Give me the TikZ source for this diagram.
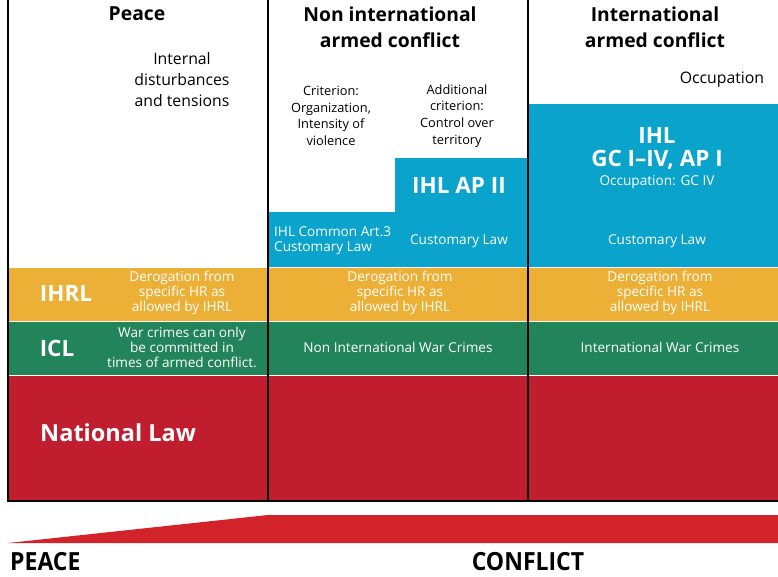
\documentclass[tikz,border=0pt]{standalone}
\usepackage{fontspec}
\setmainfont{Open Sans}
\newfontfamily\condfont[FakeStretch=0.92]{Open Sans}
\definecolor{lawblue}{RGB}{10,163,203}
\definecolor{lawyellow}{RGB}{236,176,54}
\definecolor{lawgreen}{RGB}{34,132,90}
\definecolor{lawred}{RGB}{192,30,46}
\definecolor{wedgered}{RGB}{210,35,42}
\begin{document}
\begin{tikzpicture}[x=1pt,y=-1pt,
    every node/.style={inner sep=0pt},
    head/.style={font=\fontsize{19.3}{26}\selectfont\bfseries, align=center},
    note/.style={font=\fontsize{15.8}{21}\selectfont, align=center},
    crit/.style={font=\fontsize{12.8}{16.7}\selectfont, align=center},
    wnote/.style={font=\fontsize{13.6}{15}\selectfont, align=center, text=white},
    wbig/.style={font=\fontsize{22.5}{23}\selectfont\bfseries, align=center, text=white},
    axis/.style={font=\fontsize{25}{25}\condfont\bfseries}]
\useasboundingbox (0,0) rectangle (778,577);
% colour bands
\fill [lawblue] (268,212) rectangle (395,266.5);
\fill [lawblue] (395,158) rectangle (528,266.5);
\fill [lawblue] (528,104) rectangle (778,266.5);
\fill [lawyellow] (8,268) rectangle (778,320.5);
\fill [lawgreen] (8,322) rectangle (778,374.5);
\fill [lawred] (8,376) rectangle (778,500);
% frame
\draw [black, line width=2.6pt] (8,0) -- (8,501) -- (778,501);
\draw [black, line width=2.6pt] (268,0) -- (268,501);
\draw [black, line width=2.6pt] (528,0) -- (528,501);
% column heads
\node [head] (peace) at (137,14) {Peace};
\node [head] (niac) at (390,27) {Non international\\armed conflict};
\node [head] (iac) at (655,27) {International\\armed conflict};
\node [note] (internal) at (182,80) {Internal\\disturbances\\and tensions};
\node [note] (occup) at (722,80) {Occupation};
\node [crit] (crit1) at (331,116) {Criterion:\\Organization,\\Intensity of\\violence};
\node [crit] (crit2) at (457,116) {Additional\\criterion:\\Control over\\territory};
% IHL
\node [wbig] (apii) at (459,185) {IHL AP II};
\node [wnote, align=left, anchor=west] (art3) at (274,240.5) {IHL Common Art.3\\Customary Law};
\node [wnote] (cust2) at (459,241) {Customary Law};
\node [wbig] (gc) at (657,148.5) {IHL\\GC I--IV, AP I};
\node [wnote] (occgc) at (657,182) {Occupation: GC IV};
\node [wnote] (cust3) at (657,241) {Customary Law};
% IHRL
\node [wbig] (ihrl) at (66,293) {IHRL};
\node [wnote] (derog1) at (182,293) {Derogation from\\specific HR as\\allowed by IHRL};
\node [wnote] (derog2) at (400,293) {Derogation from\\specific HR as\\allowed by IHRL};
\node [wnote] (derog3) at (660,293) {Derogation from\\specific HR as\\allowed by IHRL};
% ICL
\node [wbig] (icl) at (57,348) {ICL};
\node [wnote] (wc1) at (182,347) {War crimes can only\\be committed in\\times of armed conflict.};
\node [wnote] (wc2) at (398,347) {Non International War Crimes};
\node [wnote] (wc3) at (660,347) {International War Crimes};
% national law
\node [wbig, anchor=west, font=\fontsize{23.5}{24}\selectfont\bfseries] (natlaw) at (40,433) {National Law};
% scale
\fill [wedgered] (8,543) -- (268,515) -- (778,515) -- (778,543) -- cycle;
\node [axis, anchor=west] (peacelab) at (10,562) {PEACE};
\node [axis] (conflab) at (528,562) {CONFLICT};
\end{tikzpicture}
\end{document}
